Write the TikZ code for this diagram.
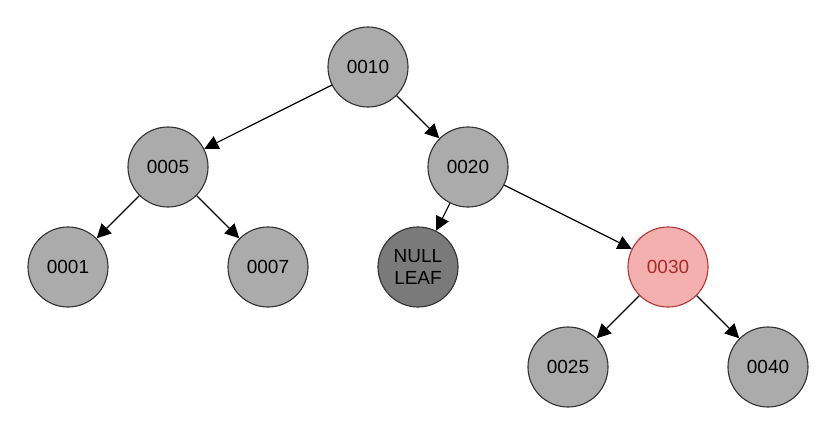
\documentclass[tikz,border=0pt]{standalone}
\usepackage{fontspec}
\setmainfont{Liberation Sans}
\usetikzlibrary{arrows.meta}

\definecolor{keygray}{HTML}{ABABAB}
\definecolor{nullgray}{HTML}{7A7A7A}
\definecolor{redfill}{HTML}{F4AFAF}
\definecolor{redline}{HTML}{B03A3A}
\definecolor{redtext}{HTML}{A62B2B}

\tikzset{
  key/.style={circle,draw=black!80,fill=keygray,line width=0.8pt,minimum size=2cm,inner sep=0pt,font=\fontsize{13.5}{15}\selectfont},
  nullkey/.style={key,fill=nullgray,align=center},
  newkey/.style={key,draw=redline,fill=redfill,text=redtext},
  link/.style={-{Triangle[length=10pt,width=10pt]},line width=0.8pt}
}

\begin{document}
\begin{tikzpicture}[x=0.025cm,y=-0.025cm]
\useasboundingbox (0,0) rectangle (830,428);

\node[key] (k10) at (368,67) {0010};
\node[key] (k5) at (168,167) {0005};
\node[key] (k20) at (468,167) {0020};
\node[key] (k1) at (68,267) {0001};
\node[key] (k7) at (268,267) {0007};
\node[nullkey] (nil) at (418,267) {NULL\\LEAF};
\node[newkey] (k30) at (668,267) {0030};
\node[key] (k25) at (568,367) {0025};
\node[key] (k40) at (768,367) {0040};

\draw[link] (k10) -- (k5);
\draw[link] (k10) -- (k20);
\draw[link] (k5) -- (k1);
\draw[link] (k5) -- (k7);
\draw[link] (k20) -- (nil);
\draw[link] (k20) -- (k30);
\draw[link] (k30) -- (k25);
\draw[link] (k30) -- (k40);
\end{tikzpicture}
\end{document}
